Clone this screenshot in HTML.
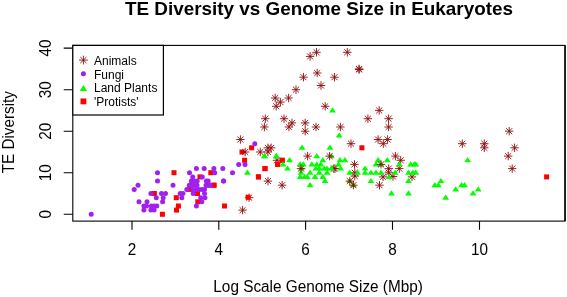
<!DOCTYPE html>
<html><head><meta charset="utf-8"><title>TE Diversity vs Genome Size in Eukaryotes</title>
<style>
html,body{margin:0;padding:0;background:#fff;}
body{width:567px;height:297px;overflow:hidden;}
svg{display:block;font-family:"Liberation Sans",Arial,sans-serif;fill:#000;}
</style></head><body>
<svg width="567" height="297" viewBox="0 0 567 297">
<rect width="567" height="297" fill="#fff"/>
<text x="319" y="14.6" text-anchor="middle" font-size="18.77" font-weight="bold" textLength="388" lengthAdjust="spacingAndGlyphs">TE Diversity vs Genome Size in Eukaryotes</text>
<text x="318.1" y="292.4" text-anchor="middle" font-size="16" textLength="209.5" lengthAdjust="spacingAndGlyphs">Log Scale Genome Size (Mbp)</text>
<text transform="translate(13.7,132.2) rotate(-90) scale(0.955,1)" text-anchor="middle" font-size="16">TE Diversity</text>
<g fill="none" stroke="#000" stroke-width="1.1">
<rect x="72.8" y="45.4" width="492.2" height="175.7"/><path d="M565.1 45.4V221.1" stroke-width="1.4"/>
<path d="M132.0 221V229.8M218.8 221V229.8M305.6 221V229.8M392.5 221V229.8M479.5 221V229.8"/>
<path d="M72.8 214.3H63.7M72.8 172.8H63.7M72.8 131.2H63.7M72.8 89.7H63.7M72.8 48.1H63.7"/>
</g>
<text transform="translate(132.0,254.8) scale(0.955,1)" text-anchor="middle" font-size="16">2</text>
<text transform="translate(218.8,254.8) scale(0.955,1)" text-anchor="middle" font-size="16">4</text>
<text transform="translate(305.6,254.8) scale(0.955,1)" text-anchor="middle" font-size="16">6</text>
<text transform="translate(392.5,254.8) scale(0.955,1)" text-anchor="middle" font-size="16">8</text>
<text transform="translate(479.5,254.8) scale(0.955,1)" text-anchor="middle" font-size="16">10</text>
<text transform="translate(50.7,214.3) rotate(-90) scale(0.955,1)" text-anchor="middle" font-size="16">0</text>
<text transform="translate(50.7,172.8) rotate(-90) scale(0.955,1)" text-anchor="middle" font-size="16">10</text>
<text transform="translate(50.7,131.2) rotate(-90) scale(0.955,1)" text-anchor="middle" font-size="16">20</text>
<text transform="translate(50.7,89.7) rotate(-90) scale(0.955,1)" text-anchor="middle" font-size="16">30</text>
<text transform="translate(50.7,48.1) rotate(-90) scale(0.955,1)" text-anchor="middle" font-size="16">40</text>
<g fill="none" stroke="#8e0b0b" stroke-width="0.9"><path d="M272.8 160.3H281.2M277.0 156.1V164.5M274.0 157.3L280.0 163.3M274.0 163.3L280.0 157.3"/></g>
<g fill="#ff0000"><rect x="171.5" y="170.2" width="5.0" height="5.0"/><rect x="151.9" y="191.0" width="5.0" height="5.0"/><rect x="173.8" y="195.2" width="5.0" height="5.0"/><rect x="175.9" y="203.5" width="5.0" height="5.0"/><rect x="174.0" y="207.6" width="5.0" height="5.0"/><rect x="159.9" y="211.8" width="5.0" height="5.0"/><rect x="195.3" y="199.3" width="5.0" height="5.0"/><rect x="195.0" y="191.0" width="5.0" height="5.0"/><rect x="187.1" y="186.9" width="5.0" height="5.0"/><rect x="197.5" y="174.4" width="5.0" height="5.0"/><rect x="208.3" y="170.2" width="5.0" height="5.0"/><rect x="211.7" y="182.7" width="5.0" height="5.0"/><rect x="205.0" y="182.7" width="5.0" height="5.0"/><rect x="211.1" y="182.7" width="5.0" height="5.0"/><rect x="222.0" y="203.5" width="5.0" height="5.0"/><rect x="255.9" y="174.4" width="5.0" height="5.0"/><rect x="262.6" y="166.1" width="5.0" height="5.0"/><rect x="275.3" y="161.9" width="5.0" height="5.0"/><rect x="249.1" y="145.3" width="5.0" height="5.0"/><rect x="239.5" y="149.5" width="5.0" height="5.0"/><rect x="242.1" y="157.8" width="5.0" height="5.0"/><rect x="279.8" y="157.8" width="5.0" height="5.0"/><rect x="279.6" y="157.8" width="5.0" height="5.0"/><rect x="275.1" y="161.9" width="5.0" height="5.0"/><rect x="262.4" y="166.1" width="5.0" height="5.0"/><rect x="256.0" y="174.4" width="5.0" height="5.0"/><rect x="359.4" y="145.3" width="5.0" height="5.0"/><rect x="544.1" y="174.4" width="5.0" height="5.0"/></g>
<g fill="none" stroke="#8e0b0b" stroke-width="0.9"><path d="M260.2 127.0H268.6M264.4 122.8V131.2M261.4 124.1L267.4 130.0M261.4 130.0L267.4 124.1"/><path d="M236.2 139.5H244.6M240.4 135.3V143.7M237.4 136.5L243.4 142.5M237.4 142.5L243.4 136.5"/><path d="M263.7 147.8H272.1M267.9 143.6V152.0M264.9 144.9L270.9 150.8M264.9 150.8L270.9 144.9"/><path d="M266.9 147.8H275.3M271.1 143.6V152.0M268.1 144.9L274.1 150.8M268.1 150.8L274.1 144.9"/><path d="M241.0 152.0H249.4M245.2 147.8V156.2M242.2 149.0L248.2 154.9M242.2 154.9L248.2 149.0"/><path d="M256.1 152.0H264.5M260.3 147.8V156.2M257.3 149.0L263.3 154.9M257.3 154.9L263.3 149.0"/><path d="M263.7 152.0H272.1M267.9 147.8V156.2M264.9 149.0L270.9 154.9M264.9 154.9L270.9 149.0"/><path d="M312.3 52.3H320.7M316.5 48.1V56.5M313.5 49.3L319.5 55.2M313.5 55.2L319.5 49.3"/><path d="M305.9 56.4H314.3M310.1 52.2V60.6M307.1 53.4L313.1 59.4M307.1 59.4L313.1 53.4"/><path d="M313.0 73.0H321.4M317.2 68.8V77.2M314.2 70.1L320.2 76.0M314.2 76.0L320.2 70.1"/><path d="M299.3 77.2H307.7M303.5 73.0V81.4M300.5 74.2L306.5 80.2M300.5 80.2L306.5 74.2"/><path d="M330.3 77.2H338.7M334.5 73.0V81.4M331.5 74.2L337.5 80.2M331.5 80.2L337.5 74.2"/><path d="M316.8 85.5H325.2M321.0 81.3V89.7M318.0 82.5L324.0 88.5M318.0 88.5L324.0 82.5"/><path d="M291.8 89.7H300.2M296.0 85.5V93.9M293.0 86.7L299.0 92.6M293.0 92.6L299.0 86.7"/><path d="M271.0 98.0H279.4M275.2 93.8V102.2M272.2 95.0L278.2 100.9M272.2 100.9L278.2 95.0"/><path d="M284.4 98.0H292.8M288.6 93.8V102.2M285.6 95.0L291.6 100.9M285.6 100.9L291.6 95.0"/><path d="M276.2 102.1H284.6M280.4 97.9V106.3M277.4 99.1L283.4 105.1M277.4 105.1L283.4 99.1"/><path d="M272.0 106.3H280.4M276.2 102.1V110.5M273.2 103.3L279.2 109.2M273.2 109.2L279.2 103.3"/><path d="M321.0 106.3H329.4M325.2 102.1V110.5M322.2 103.3L328.2 109.2M322.2 109.2L328.2 103.3"/><path d="M261.1 118.7H269.5M265.3 114.5V122.9M262.3 115.8L268.3 121.7M262.3 121.7L268.3 115.8"/><path d="M279.8 118.7H288.2M284.0 114.5V122.9M281.0 115.8L287.0 121.7M281.0 121.7L287.0 115.8"/><path d="M287.8 122.9H296.2M292.0 118.7V127.1M289.0 119.9L295.0 125.9M289.0 125.9L295.0 119.9"/><path d="M301.0 122.9H309.4M305.2 118.7V127.1M302.2 119.9L308.2 125.9M302.2 125.9L308.2 119.9"/><path d="M284.7 127.0H293.1M288.9 122.8V131.2M285.9 124.1L291.9 130.0M285.9 130.0L291.9 124.1"/><path d="M301.0 131.2H309.4M305.2 127.0V135.4M302.2 128.2L308.2 134.2M302.2 134.2L308.2 128.2"/><path d="M311.8 127.0H320.2M316.0 122.8V131.2M313.0 124.1L319.0 130.0M313.0 130.0L319.0 124.1"/><path d="M303.4 156.1H311.8M307.6 151.9V160.3M304.6 153.2L310.6 159.1M304.6 159.1L310.6 153.2"/><path d="M329.6 168.6H338.0M333.8 164.4V172.8M330.8 165.6L336.8 171.6M330.8 171.6L336.8 165.6"/><path d="M263.8 181.1H272.2M268.0 176.9V185.3M265.0 178.1L271.0 184.0M265.0 184.0L271.0 178.1"/><path d="M277.9 185.2H286.3M282.1 181.0V189.4M279.1 182.2L285.1 188.2M279.1 188.2L285.1 182.2"/><path d="M343.1 52.3H351.5M347.3 48.1V56.5M344.3 49.3L350.3 55.2M344.3 55.2L350.3 49.3"/><path d="M354.8 68.9H363.2M359.0 64.7V73.1M356.0 65.9L362.0 71.8M356.0 71.8L362.0 65.9"/><path d="M355.0 69.5H363.4M359.2 65.3V73.7M356.2 66.5L362.2 72.5M356.2 72.5L362.2 66.5"/><path d="M375.0 110.4H383.4M379.2 106.2V114.6M376.2 107.5L382.2 113.4M376.2 113.4L382.2 107.5"/><path d="M363.7 118.7H372.1M367.9 114.5V122.9M364.9 115.8L370.9 121.7M364.9 121.7L370.9 115.8"/><path d="M384.4 118.7H392.8M388.6 114.5V122.9M385.6 115.8L391.6 121.7M385.6 121.7L391.6 115.8"/><path d="M336.2 127.0H344.6M340.4 122.8V131.2M337.4 124.1L343.4 130.0M337.4 130.0L343.4 124.1"/><path d="M384.4 127.0H392.8M388.6 122.8V131.2M385.6 124.1L391.6 130.0M385.6 130.0L391.6 124.1"/><path d="M346.8 143.7H355.2M351.0 139.5V147.9M348.0 140.7L354.0 146.6M348.0 146.6L354.0 140.7"/><path d="M373.9 139.5H382.3M378.1 135.3V143.7M375.1 136.5L381.1 142.5M375.1 142.5L381.1 136.5"/><path d="M383.4 139.5H391.8M387.6 135.3V143.7M384.6 136.5L390.6 142.5M384.6 142.5L390.6 136.5"/><path d="M379.1 143.7H387.5M383.3 139.5V147.9M380.3 140.7L386.3 146.6M380.3 146.6L386.3 140.7"/><path d="M391.2 156.1H399.6M395.4 151.9V160.3M392.4 153.2L398.4 159.1M392.4 159.1L398.4 153.2"/><path d="M396.5 160.3H404.9M400.7 156.1V164.5M397.7 157.3L403.7 163.3M397.7 163.3L403.7 157.3"/><path d="M350.3 164.4H358.7M354.5 160.2V168.6M351.5 161.5L357.5 167.4M351.5 167.4L357.5 161.5"/><path d="M330.8 168.6H339.2M335.0 164.4V172.8M332.0 165.6L338.0 171.6M332.0 171.6L338.0 165.6"/><path d="M384.5 168.6H392.9M388.7 164.4V172.8M385.7 165.6L391.7 171.6M385.7 171.6L391.7 165.6"/><path d="M395.1 168.6H403.5M399.3 164.4V172.8M396.3 165.6L402.3 171.6M396.3 171.6L402.3 165.6"/><path d="M350.6 172.8H359.0M354.8 168.6V176.9M351.8 169.8L357.8 175.7M351.8 175.7L357.8 169.8"/><path d="M384.5 172.8H392.9M388.7 168.6V176.9M385.7 169.8L391.7 175.7M385.7 175.7L391.7 169.8"/><path d="M350.6 176.1H359.0M354.8 171.9V180.3M351.8 173.1L357.8 179.0M351.8 179.0L357.8 173.1"/><path d="M378.8 176.9H387.2M383.0 172.7V181.1M380.0 173.9L386.0 179.9M380.0 179.9L386.0 173.9"/><path d="M388.8 176.5H397.2M393.0 172.3V180.7M390.0 173.5L396.0 179.5M390.0 179.5L396.0 173.5"/><path d="M407.8 176.9H416.2M412.0 172.7V181.1M409.0 173.9L415.0 179.9M409.0 179.9L415.0 173.9"/><path d="M375.3 185.2H383.7M379.5 181.0V189.4M376.5 182.2L382.5 188.2M376.5 188.2L382.5 182.2"/><path d="M458.1 143.7H466.5M462.3 139.5V147.9M459.3 140.7L465.3 146.6M459.3 146.6L465.3 140.7"/><path d="M480.1 143.7H488.5M484.3 139.5V147.9M481.3 140.7L487.3 146.6M481.3 146.6L487.3 140.7"/><path d="M480.1 147.8H488.5M484.3 143.6V152.0M481.3 144.9L487.3 150.8M481.3 150.8L487.3 144.9"/><path d="M505.0 131.2H513.4M509.2 127.0V135.4M506.2 128.2L512.2 134.2M506.2 134.2L512.2 128.2"/><path d="M510.4 147.8H518.8M514.6 143.6V152.0M511.6 144.9L517.6 150.8M511.6 150.8L517.6 144.9"/><path d="M504.0 156.1H512.4M508.2 151.9V160.3M505.2 153.2L511.2 159.1M505.2 159.1L511.2 153.2"/><path d="M508.0 168.6H516.4M512.2 164.4V172.8M509.2 165.6L515.2 171.6M509.2 171.6L515.2 165.6"/><path d="M244.9 197.7H253.3M249.1 193.5V201.9M246.1 194.7L252.1 200.6M246.1 200.6L252.1 194.7"/><path d="M238.4 210.1H246.8M242.6 205.9V214.3M239.6 207.2L245.6 213.1M239.6 213.1L245.6 207.2"/></g>
<g fill="#00ff00"><path d="M247.4 169.6L250.8 174.8L244.0 174.8Z"/><path d="M264.6 153.0L268.0 158.2L261.2 158.2Z"/><path d="M276.2 153.0L279.6 158.2L272.8 158.2Z"/><path d="M302.0 144.6L305.4 149.8L298.6 149.8Z"/><path d="M330.0 144.6L333.4 149.8L326.6 149.8Z"/><path d="M316.8 153.0L320.2 158.2L313.4 158.2Z"/><path d="M331.3 153.0L334.7 158.2L327.9 158.2Z"/><path d="M289.6 157.1L293.0 162.3L286.2 162.3Z"/><path d="M322.8 157.1L326.2 162.3L319.4 162.3Z"/><path d="M283.0 161.3L286.4 166.5L279.6 166.5Z"/><path d="M300.2 161.3L303.6 166.5L296.8 166.5Z"/><path d="M303.3 161.3L306.7 166.5L299.9 166.5Z"/><path d="M311.8 161.3L315.2 166.5L308.4 166.5Z"/><path d="M316.8 161.3L320.2 166.5L313.4 166.5Z"/><path d="M320.7 161.3L324.1 166.5L317.3 166.5Z"/><path d="M287.5 165.4L290.9 170.6L284.1 170.6Z"/><path d="M301.6 165.4L305.0 170.6L298.2 170.6Z"/><path d="M315.8 165.4L319.2 170.6L312.4 170.6Z"/><path d="M319.3 165.4L322.7 170.6L315.9 170.6Z"/><path d="M324.3 165.4L327.7 170.6L320.9 170.6Z"/><path d="M327.0 165.4L330.4 170.6L323.6 170.6Z"/><path d="M331.3 165.4L334.7 170.6L327.9 170.6Z"/><path d="M301.0 169.6L304.4 174.8L297.6 174.8Z"/><path d="M310.1 169.6L313.5 174.8L306.7 174.8Z"/><path d="M319.3 169.6L322.7 174.8L315.9 174.8Z"/><path d="M327.1 169.6L330.5 174.8L323.7 174.8Z"/><path d="M300.2 173.7L303.6 178.9L296.8 178.9Z"/><path d="M304.5 173.7L307.9 178.9L301.1 178.9Z"/><path d="M307.3 173.7L310.7 178.9L303.9 178.9Z"/><path d="M315.0 173.7L318.4 178.9L311.6 178.9Z"/><path d="M322.8 173.7L326.2 178.9L319.4 178.9Z"/><path d="M325.0 177.9L328.4 183.1L321.6 183.1Z"/><path d="M310.1 182.0L313.5 187.2L306.7 187.2Z"/><path d="M332.5 107.2L335.9 112.4L329.1 112.4Z"/><path d="M339.2 132.2L342.6 137.4L335.8 137.4Z"/><path d="M340.0 157.1L343.4 162.3L336.6 162.3Z"/><path d="M344.9 157.1L348.3 162.3L341.5 162.3Z"/><path d="M338.5 161.3L341.9 166.5L335.1 166.5Z"/><path d="M378.1 157.1L381.5 162.3L374.7 162.3Z"/><path d="M387.3 157.1L390.7 162.3L383.9 162.3Z"/><path d="M376.0 161.3L379.4 166.5L372.6 166.5Z"/><path d="M381.0 161.3L384.4 166.5L377.6 166.5Z"/><path d="M399.3 161.3L402.7 166.5L395.9 166.5Z"/><path d="M410.6 161.3L414.0 166.5L407.2 166.5Z"/><path d="M414.2 161.3L417.6 166.5L410.8 166.5Z"/><path d="M340.7 165.4L344.1 170.6L337.3 170.6Z"/><path d="M365.1 165.4L368.5 170.6L361.7 170.6Z"/><path d="M349.8 169.6L353.2 174.8L346.4 174.8Z"/><path d="M357.6 169.6L361.0 174.8L354.2 174.8Z"/><path d="M365.1 169.6L368.5 174.8L361.7 174.8Z"/><path d="M371.0 169.6L374.4 174.8L367.6 174.8Z"/><path d="M376.0 169.6L379.4 174.8L372.6 174.8Z"/><path d="M381.0 169.6L384.4 174.8L377.6 174.8Z"/><path d="M395.1 169.6L398.5 174.8L391.7 174.8Z"/><path d="M408.5 169.6L411.9 174.8L405.1 174.8Z"/><path d="M412.7 169.6L416.1 174.8L409.3 174.8Z"/><path d="M389.1 173.7L392.5 178.9L385.7 178.9Z"/><path d="M349.8 177.9L353.2 183.1L346.4 183.1Z"/><path d="M371.0 177.9L374.4 183.1L367.6 183.1Z"/><path d="M408.5 177.9L411.9 183.1L405.1 183.1Z"/><path d="M353.4 182.0L356.8 187.2L350.0 187.2Z"/><path d="M391.5 190.3L394.9 195.5L388.1 195.5Z"/><path d="M408.5 190.3L411.9 195.5L405.1 195.5Z"/><path d="M467.7 157.1L471.1 162.3L464.3 162.3Z"/><path d="M415.7 161.3L419.1 166.5L412.3 166.5Z"/><path d="M415.7 169.6L419.1 174.8L412.3 174.8Z"/><path d="M440.9 177.9L444.3 183.1L437.5 183.1Z"/><path d="M434.8 182.0L438.2 187.2L431.4 187.2Z"/><path d="M438.3 182.0L441.7 187.2L434.9 187.2Z"/><path d="M461.6 182.0L465.0 187.2L458.2 187.2Z"/><path d="M464.5 182.0L467.9 187.2L461.1 187.2Z"/><path d="M455.7 186.2L459.1 191.4L452.3 191.4Z"/><path d="M478.2 186.2L481.6 191.4L474.8 191.4Z"/><path d="M473.0 190.3L476.4 195.5L469.6 195.5Z"/><path d="M445.7 194.5L449.1 199.7L442.3 199.7Z"/><path d="M264.4 153.0L267.8 158.2L261.0 158.2Z"/><path d="M276.4 153.0L279.8 158.2L273.0 158.2Z"/></g>
<g fill="none" stroke="#8e0b0b" stroke-width="0.9"><path d="M345.6 181.1H354.0M349.8 176.9V185.3M346.8 178.1L352.8 184.0M346.8 184.0L352.8 178.1"/><path d="M349.2 185.2H357.6M353.4 181.0V189.4M350.4 182.2L356.4 188.2M350.4 188.2L356.4 182.2"/><path d="M376.8 164.4H385.2M381.0 160.2V168.6M378.0 161.5L384.0 167.4M378.0 167.4L384.0 161.5"/><path d="M325.4 156.1H333.8M329.6 151.9V160.3M326.6 153.2L332.6 159.1M326.6 159.1L332.6 153.2"/><path d="M296.8 168.6H305.2M301.0 164.4V172.8M298.0 165.6L304.0 171.6M298.0 171.6L304.0 165.6"/></g>
<g fill="#a020f0"><circle cx="91.2" cy="214.3" r="2.5"/><circle cx="134.2" cy="189.4" r="2.5"/><circle cx="138.0" cy="185.2" r="2.5"/><circle cx="139.0" cy="201.8" r="2.5"/><circle cx="157.5" cy="172.8" r="2.5"/><circle cx="157.5" cy="181.1" r="2.5"/><circle cx="150.9" cy="193.5" r="2.5"/><circle cx="161.5" cy="193.5" r="2.5"/><circle cx="165.5" cy="193.5" r="2.5"/><circle cx="156.3" cy="197.7" r="2.5"/><circle cx="163.2" cy="197.7" r="2.5"/><circle cx="147.0" cy="201.8" r="2.5"/><circle cx="162.6" cy="201.8" r="2.5"/><circle cx="143.9" cy="206.0" r="2.5"/><circle cx="146.5" cy="206.0" r="2.5"/><circle cx="151.4" cy="206.0" r="2.5"/><circle cx="154.1" cy="206.0" r="2.5"/><circle cx="156.8" cy="206.0" r="2.5"/><circle cx="143.9" cy="210.1" r="2.5"/><circle cx="150.9" cy="210.1" r="2.5"/><circle cx="154.1" cy="210.1" r="2.5"/><circle cx="173.0" cy="185.2" r="2.5"/><circle cx="180.2" cy="193.5" r="2.5"/><circle cx="182.9" cy="193.5" r="2.5"/><circle cx="181.8" cy="197.7" r="2.5"/><circle cx="186.8" cy="189.4" r="2.5"/><circle cx="189.5" cy="172.8" r="2.5"/><circle cx="192.7" cy="176.9" r="2.5"/><circle cx="191.3" cy="181.1" r="2.5"/><circle cx="194.0" cy="181.1" r="2.5"/><circle cx="197.2" cy="181.1" r="2.5"/><circle cx="191.0" cy="185.2" r="2.5"/><circle cx="194.0" cy="185.2" r="2.5"/><circle cx="197.0" cy="185.2" r="2.5"/><circle cx="193.0" cy="189.4" r="2.5"/><circle cx="196.0" cy="189.4" r="2.5"/><circle cx="199.0" cy="189.4" r="2.5"/><circle cx="202.0" cy="189.4" r="2.5"/><circle cx="204.5" cy="189.4" r="2.5"/><circle cx="193.2" cy="193.5" r="2.5"/><circle cx="204.5" cy="193.5" r="2.5"/><circle cx="200.7" cy="197.7" r="2.5"/><circle cx="205.0" cy="197.7" r="2.5"/><circle cx="201.8" cy="201.8" r="2.5"/><circle cx="196.4" cy="206.0" r="2.5"/><circle cx="196.4" cy="168.6" r="2.5"/><circle cx="204.2" cy="168.6" r="2.5"/><circle cx="213.9" cy="168.6" r="2.5"/><circle cx="222.8" cy="168.6" r="2.5"/><circle cx="214.7" cy="172.8" r="2.5"/><circle cx="232.5" cy="172.8" r="2.5"/><circle cx="202.3" cy="176.9" r="2.5"/><circle cx="206.4" cy="181.1" r="2.5"/><circle cx="208.2" cy="181.1" r="2.5"/><circle cx="223.6" cy="181.1" r="2.5"/><circle cx="209.9" cy="185.2" r="2.5"/><circle cx="206.0" cy="185.2" r="2.5"/><circle cx="210.2" cy="185.2" r="2.5"/><circle cx="223.5" cy="181.1" r="2.5"/><circle cx="238.7" cy="164.4" r="2.5"/><circle cx="245.0" cy="164.4" r="2.5"/><circle cx="254.8" cy="143.7" r="2.5"/><circle cx="189.3" cy="185.2" r="2.5"/></g>
<g fill="#ff0000"><rect x="245.6" y="194.8" width="5.0" height="5.0"/></g>
<rect x="72.8" y="45.4" width="90.6" height="69.6" fill="#fff" stroke="#000" stroke-width="1.2"/>
<g fill="none" stroke="#8e0b0b" stroke-width="0.9"><path d="M79.0 60.1H87.8M83.4 55.7V64.5M80.3 57.0L86.5 63.2M80.3 63.2L86.5 57.0"/></g>
<g fill="#a020f0"><circle cx="83.4" cy="73.8" r="2.5"/></g>
<g fill="#00ff00"><path d="M83.4 85.0L87.2 90.9L79.6 90.9Z"/></g>
<g fill="#ff0000"><rect x="80.5" y="98.5" width="5.8" height="5.8"/></g>
<text x="94" y="64.7" font-size="12">Animals</text>
<text x="94" y="78.5" font-size="12">Fungi</text>
<text x="94" y="92.4" font-size="12">Land Plants</text>
<text x="94" y="106.3" font-size="12">'Protists'</text>
</svg></body></html>
